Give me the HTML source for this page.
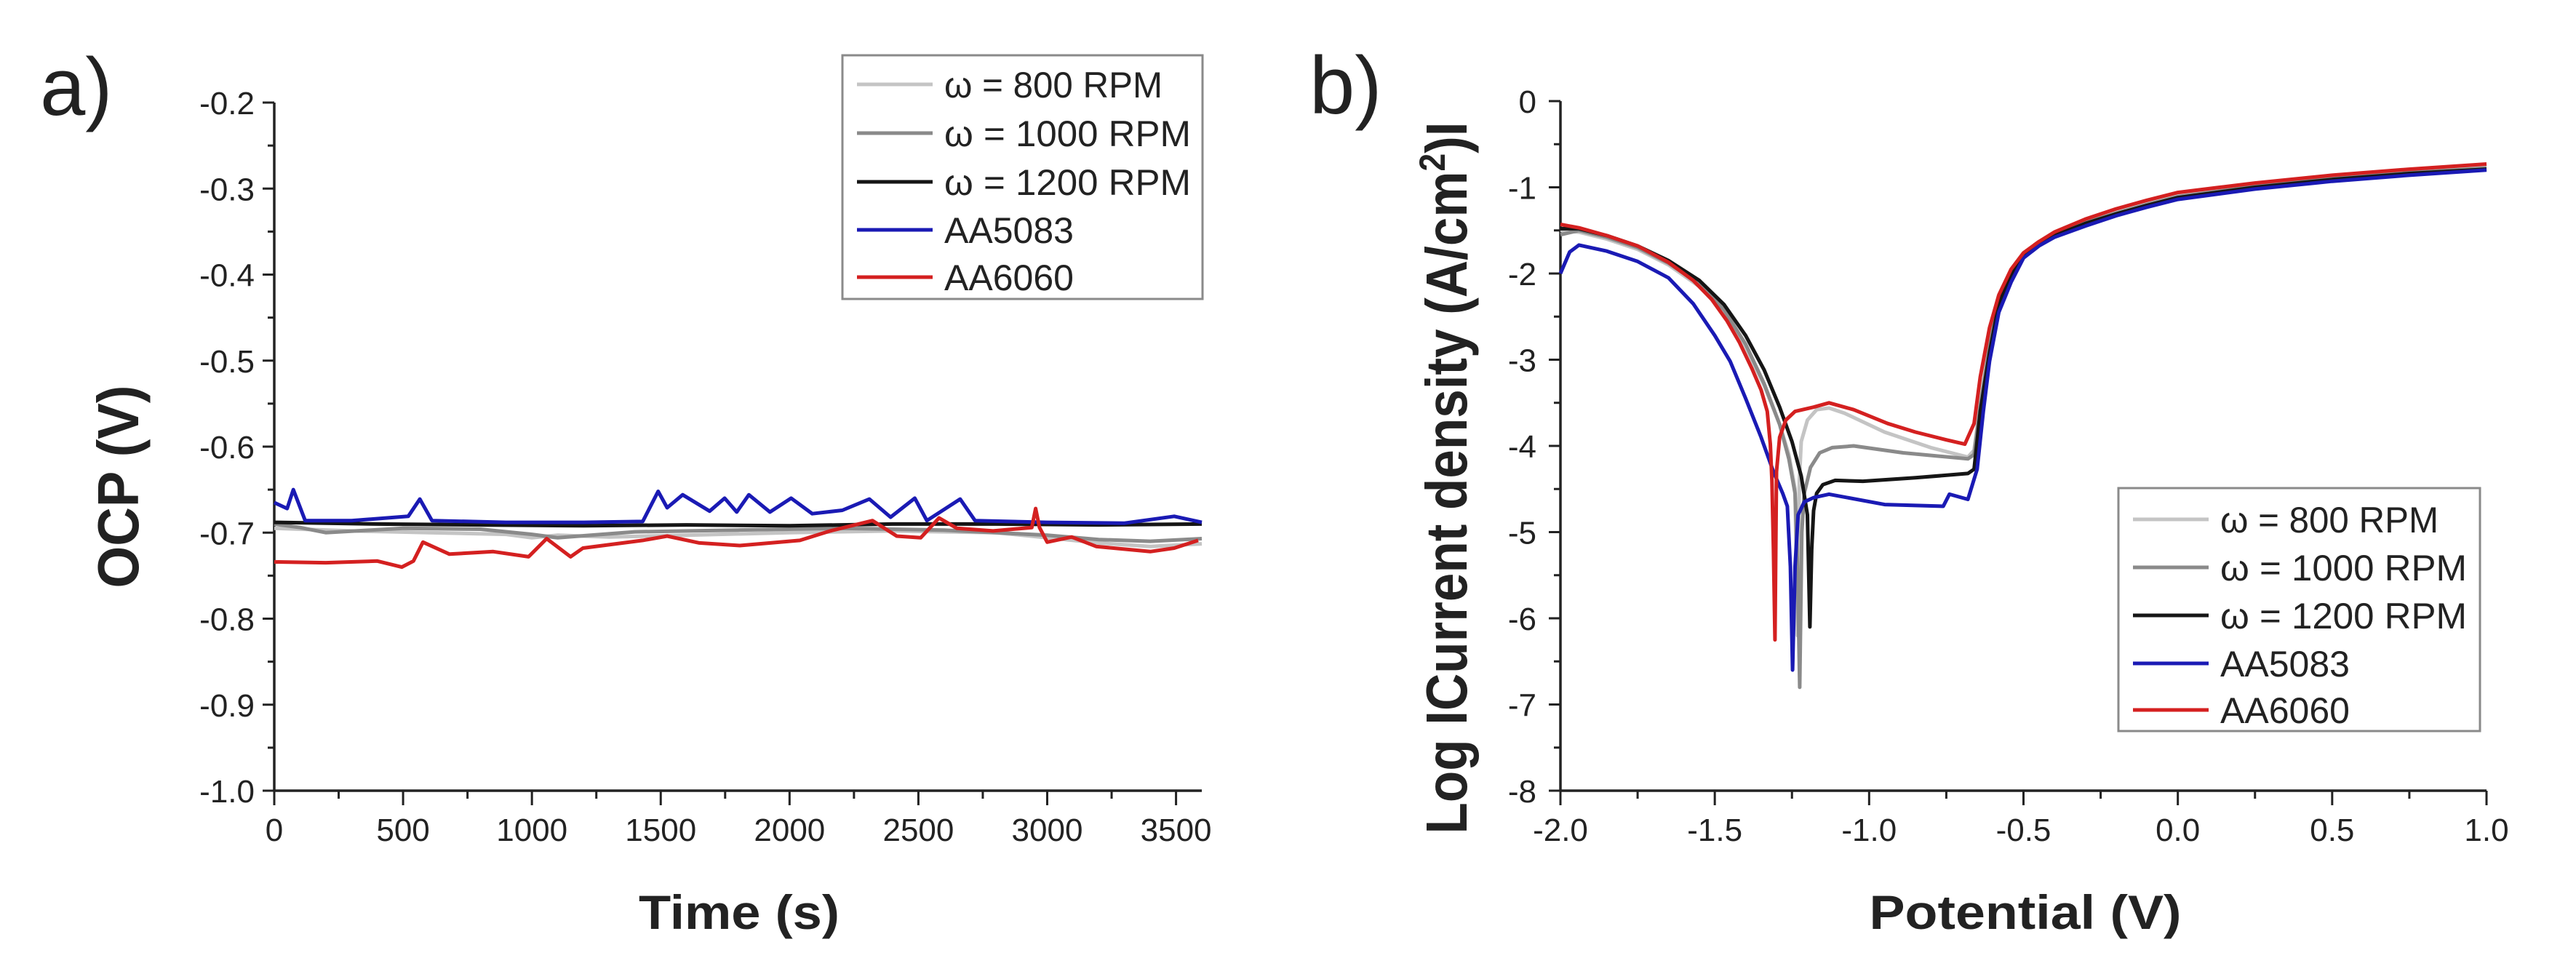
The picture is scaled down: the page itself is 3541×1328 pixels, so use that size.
<!DOCTYPE html>
<html><head><meta charset="utf-8"><title>OCP and polarization curves</title>
<style>html,body{margin:0;padding:0;background:#fff}svg{display:block}text{font-family:"Liberation Sans",Arial,sans-serif;fill:#222}</style>
</head><body>
<svg id="fig" width="3541" height="1328" viewBox="0 0 3541 1328" xmlns="http://www.w3.org/2000/svg">
<rect width="3541" height="1328" fill="#fff"/>
<text x="55" y="158" font-size="112">a)</text>
<text x="1800" y="156" font-size="112">b)</text>
<g id="ga"></g>
<g id="gb"></g>
</svg>
<script>
// ---------- Panel a data (OCP vs time) ----------
const aXTicks = [0,500,1000,1500,2000,2500,3000,3500];
const aYTicks = [-0.2,-0.3,-0.4,-0.5,-0.6,-0.7,-0.8,-0.9,-1.0];
const aYTickLabels = ["-0.2","-0.3","-0.4","-0.5","-0.6","-0.7","-0.8","-0.9","-1.0"];
const aT800 = [0,300,600,900,1000,1100,1300,1600,2000,2400,2800,3000,3200,3400,3600];
const aV800 = [-0.695,-0.698,-0.700,-0.702,-0.706,-0.703,-0.705,-0.703,-0.700,-0.698,-0.700,-0.706,-0.712,-0.716,-0.713];
const aT1000 = [0,100,200,500,800,1000,1100,1400,1800,2200,2600,3000,3200,3400,3600];
const aV1000 = [-0.690,-0.694,-0.700,-0.695,-0.696,-0.702,-0.706,-0.699,-0.697,-0.695,-0.697,-0.703,-0.708,-0.710,-0.707];
const aT1200 = [0,400,800,1200,1600,2000,2400,2800,3200,3600];
const aV1200 = [-0.688,-0.690,-0.691,-0.692,-0.691,-0.692,-0.690,-0.690,-0.691,-0.690];
const aT5083 = [0,50,74,120,300,520,565,612,900,1200,1430,1490,1525,1585,1690,1748,1795,1842,1924,2006,2088,2205,2310,2392,2486,2533,2662,2720,3000,3300,3493,3600];
const aV5083 = [-0.665,-0.672,-0.650,-0.686,-0.686,-0.681,-0.661,-0.686,-0.688,-0.688,-0.687,-0.652,-0.671,-0.656,-0.675,-0.660,-0.676,-0.656,-0.676,-0.660,-0.678,-0.674,-0.661,-0.682,-0.660,-0.686,-0.661,-0.686,-0.688,-0.689,-0.681,-0.688];
const aT6060 = [0,200,400,495,540,577,680,850,987,1057,1150,1198,1430,1525,1650,1807,2040,2158,2322,2416,2509,2580,2650,2790,2940,2955,2970,3000,3095,3190,3400,3493,3586];
const aV6060 = [-0.734,-0.735,-0.733,-0.740,-0.733,-0.711,-0.725,-0.722,-0.728,-0.707,-0.728,-0.718,-0.709,-0.704,-0.712,-0.715,-0.709,-0.698,-0.686,-0.704,-0.706,-0.683,-0.695,-0.698,-0.694,-0.672,-0.694,-0.711,-0.705,-0.716,-0.722,-0.718,-0.709];
// ---------- Panel b data (polarization) ----------
const bXTicks = [-2.0,-1.5,-1.0,-0.5,0.0,0.5,1.0];
const bXTickLabels = ["-2.0","-1.5","-1.0","-0.5","0.0","0.5","1.0"];
const bYTicks = [0,-1,-2,-3,-4,-5,-6,-7,-8];
const bE800 = [-2.0,-1.94,-1.85,-1.75,-1.65,-1.55,-1.47,-1.40,-1.34,-1.29,-1.26,-1.24,-1.232,-1.226,-1.22,-1.20,-1.17,-1.13,-1.08,-0.95,-0.80,-0.68,-0.66,-0.64,-0.61,-0.58,-0.54,-0.50,-0.45,-0.40,-0.30,-0.20,-0.10,0.0,0.25,0.5,0.75,1.0];
const bL800 = [-1.50,-1.52,-1.60,-1.72,-1.90,-2.15,-2.45,-2.85,-3.30,-3.75,-4.10,-4.50,-6.20,-4.40,-3.95,-3.70,-3.58,-3.56,-3.62,-3.84,-4.02,-4.13,-4.05,-3.50,-2.80,-2.30,-2.00,-1.80,-1.66,-1.55,-1.40,-1.28,-1.18,-1.10,-0.98,-0.89,-0.82,-0.77];
const bE1000 = [-2.0,-1.94,-1.85,-1.75,-1.65,-1.55,-1.47,-1.40,-1.34,-1.29,-1.26,-1.24,-1.232,-1.225,-1.218,-1.21,-1.19,-1.16,-1.12,-1.05,-0.89,-0.68,-0.66,-0.64,-0.61,-0.58,-0.54,-0.50,-0.45,-0.40,-0.30,-0.20,-0.10,0.0,0.25,0.5,0.75,1.0];
const bL1000 = [-1.55,-1.50,-1.58,-1.70,-1.88,-2.12,-2.42,-2.82,-3.28,-3.75,-4.15,-4.55,-5.40,-6.80,-5.00,-4.55,-4.25,-4.08,-4.02,-4.00,-4.08,-4.15,-4.10,-3.55,-2.85,-2.32,-2.00,-1.80,-1.67,-1.56,-1.41,-1.30,-1.20,-1.11,-0.99,-0.90,-0.83,-0.78];
const bE1200 = [-2.0,-1.94,-1.85,-1.75,-1.65,-1.55,-1.47,-1.40,-1.34,-1.29,-1.25,-1.22,-1.20,-1.192,-1.186,-1.18,-1.17,-1.15,-1.11,-1.02,-0.85,-0.68,-0.66,-0.64,-0.61,-0.58,-0.54,-0.50,-0.45,-0.40,-0.30,-0.20,-0.10,0.0,0.25,0.5,0.75,1.0];
const bL1200 = [-1.48,-1.48,-1.56,-1.68,-1.85,-2.08,-2.36,-2.72,-3.12,-3.55,-3.95,-4.35,-4.80,-6.10,-5.20,-4.75,-4.55,-4.45,-4.40,-4.41,-4.37,-4.32,-4.27,-3.60,-2.92,-2.35,-2.02,-1.80,-1.67,-1.56,-1.42,-1.31,-1.21,-1.12,-1.00,-0.91,-0.84,-0.79];
const bE5083 = [-2.0,-1.97,-1.94,-1.85,-1.75,-1.65,-1.57,-1.50,-1.45,-1.40,-1.35,-1.31,-1.28,-1.265,-1.255,-1.248,-1.24,-1.23,-1.21,-1.18,-1.13,-0.95,-0.76,-0.74,-0.68,-0.65,-0.63,-0.61,-0.58,-0.54,-0.50,-0.45,-0.40,-0.30,-0.20,-0.10,0.0,0.25,0.5,0.75,1.0];
const bL5083 = [-2.00,-1.75,-1.67,-1.74,-1.86,-2.05,-2.35,-2.72,-3.02,-3.45,-3.90,-4.30,-4.55,-4.70,-5.40,-6.60,-5.40,-4.80,-4.65,-4.60,-4.56,-4.68,-4.70,-4.56,-4.62,-4.27,-3.60,-3.02,-2.45,-2.10,-1.82,-1.68,-1.58,-1.45,-1.33,-1.23,-1.14,-1.02,-0.93,-0.86,-0.80];
const bE6060 = [-2.0,-1.94,-1.85,-1.75,-1.65,-1.57,-1.51,-1.46,-1.42,-1.38,-1.35,-1.33,-1.32,-1.315,-1.31,-1.305,-1.30,-1.29,-1.27,-1.24,-1.18,-1.13,-1.05,-0.94,-0.85,-0.75,-0.69,-0.66,-0.64,-0.61,-0.58,-0.54,-0.50,-0.45,-0.40,-0.30,-0.20,-0.10,0.0,0.25,0.5,0.75,1.0];
const bL6060 = [-1.43,-1.47,-1.56,-1.68,-1.87,-2.08,-2.30,-2.55,-2.80,-3.10,-3.35,-3.60,-3.98,-4.40,-5.20,-6.25,-4.30,-3.90,-3.70,-3.60,-3.55,-3.50,-3.58,-3.74,-3.84,-3.93,-3.98,-3.74,-3.20,-2.63,-2.25,-1.95,-1.76,-1.63,-1.52,-1.37,-1.25,-1.15,-1.06,-0.95,-0.86,-0.79,-0.73];

const NS = "http://www.w3.org/2000/svg";
function mk(tag, attrs, parent){const e=document.createElementNS(NS,tag);for(const k in attrs)e.setAttribute(k,attrs[k]);parent.appendChild(e);return e;}

// ---------- Axis functions ----------
const A = {x0:377, x1:1652, y0:141, y1:1087, tmin:0, tmax:3600, vtop:-0.2, vbot:-1.0};
function ax(t){return A.x0 + (t-A.tmin)/(A.tmax-A.tmin)*(A.x1-A.x0);}
function ay(v){return A.y0 + (A.vtop-v)/(A.vtop-A.vbot)*(A.y1-A.y0);}
const B = {x0:2145, x1:3418, y0:139, y1:1087, emin:-2, emax:1, ltop:0, lbot:-8};
function bx(e){return B.x0 + (e-B.emin)/(B.emax-B.emin)*(B.x1-B.x0);}
function by(l){return B.y0 + (B.ltop-l)/(B.ltop-B.lbot)*(B.y1-B.y0);}

const ga = document.getElementById('ga');
const gb = document.getElementById('gb');

// ---------- Panel a axes ----------
let e;
e = mk('line',{x1:A.x0,y1:A.y0,x2:A.x0,y2:A.y1,stroke:'#222','stroke-width':3.5},ga);


e = mk('line',{x1:A.x0,y1:A.y1,x2:A.x1,y2:A.y1,stroke:'#222','stroke-width':3.5},ga);


aXTicks.forEach(t=>{
  const x=ax(t);
  mk('line',{x1:x,y1:A.y1,x2:x,y2:A.y1+20,stroke:'#222','stroke-width':3},ga);
  const xm=ax(t+250); if(t+250<=A.tmax) mk('line',{x1:xm,y1:A.y1,x2:xm,y2:A.y1+11,stroke:'#222','stroke-width':3},ga);
  e = mk('text',{x:x,y:1156,'font-size':44,'text-anchor':'middle'},ga); e.textContent=String(t);
  
  
});
aYTicks.forEach((v,i)=>{
  const y=ay(v);
  mk('line',{x1:A.x0-16,y1:y,x2:A.x0,y2:y,stroke:'#222','stroke-width':3},ga);
  if(i<aYTicks.length-1){const ym=ay(v-0.05); mk('line',{x1:A.x0-9,y1:ym,x2:A.x0,y2:ym,stroke:'#222','stroke-width':3},ga);}
  e = mk('text',{x:350,y:y+16,'font-size':44,'text-anchor':'end'},ga); e.textContent=aYTickLabels[i];
  
  
});
e = mk('text',{x:0,y:0,'font-size':80,'font-weight':'bold','text-anchor':'middle',transform:'translate(190,669) rotate(-90)',textLength:279,lengthAdjust:'spacingAndGlyphs'},ga);
e.textContent='OCP (V)';


e = mk('text',{x:1016,y:1277,'font-size':66,'font-weight':'bold','text-anchor':'middle',textLength:276,lengthAdjust:'spacingAndGlyphs'},ga);
e.textContent='Time (s)';



const series = [
  {name:'800',label:'\u03c9 = 800 RPM',col:'#c4c4c4'},
  {name:'1000',label:'\u03c9 = 1000 RPM',col:'#8a8a8a'},
  {name:'1200',label:'\u03c9 = 1200 RPM',col:'#151515'},
  {name:'aa5083',label:'AA5083',col:'#1a1ab4'},
  {name:'aa6060',label:'AA6060',col:'#d42020'}
];
const aData = [[aT800,aV800],[aT1000,aV1000],[aT1200,aV1200],[aT5083,aV5083],[aT6060,aV6060]];
const bData = [[bE800,bL800],[bE1000,bL1000],[bE1200,bL1200],[bE5083,bL5083],[bE6060,bL6060]];
aData.forEach((d,i)=>{
  const pts=d[0].map((t,j)=>ax(t).toFixed(1)+','+ay(d[1][j]).toFixed(1)).join(' ');
  const p=mk('polyline',{points:pts,fill:'none',stroke:series[i].col,'stroke-width':5,'stroke-linejoin':'round'},ga);
  
  
});

// ---------- Panel b axes ----------
e = mk('line',{x1:B.x0,y1:B.y0,x2:B.x0,y2:B.y1,stroke:'#222','stroke-width':3.5},gb);


e = mk('line',{x1:B.x0,y1:B.y1,x2:B.x1,y2:B.y1,stroke:'#222','stroke-width':3.5},gb);


bXTicks.forEach((v,i)=>{
  const x=bx(v);
  mk('line',{x1:x,y1:B.y1,x2:x,y2:B.y1+20,stroke:'#222','stroke-width':3},gb);
  if(i<bXTicks.length-1){const xm=bx(v+0.25); mk('line',{x1:xm,y1:B.y1,x2:xm,y2:B.y1+11,stroke:'#222','stroke-width':3},gb);}
  e = mk('text',{x:x,y:1156,'font-size':44,'text-anchor':'middle'},gb); e.textContent=bXTickLabels[i];
  
  
});
bYTicks.forEach((v,i)=>{
  const y=by(v);
  mk('line',{x1:B.x0-16,y1:y,x2:B.x0,y2:y,stroke:'#222','stroke-width':3},gb);
  if(i<bYTicks.length-1){const ym=by(v-0.5); mk('line',{x1:B.x0-9,y1:ym,x2:B.x0,y2:ym,stroke:'#222','stroke-width':3},gb);}
  e = mk('text',{x:2112,y:y+16,'font-size':44,'text-anchor':'end'},gb); e.textContent=String(v);
  
  
});
e = mk('text',{x:0,y:0,'font-size':80,'font-weight':'bold','text-anchor':'middle',transform:'translate(2016,657) rotate(-90)',textLength:979,lengthAdjust:'spacingAndGlyphs'},gb);
e.innerHTML='Log ICurrent density (A/cm<tspan dy="-30" font-size="50">2</tspan><tspan dy="30">)I</tspan>';


e = mk('text',{x:2784,y:1277,'font-size':66,'font-weight':'bold','text-anchor':'middle',textLength:429,lengthAdjust:'spacingAndGlyphs'},gb);
e.textContent='Potential (V)';


bData.forEach((d,i)=>{
  const pts=d[0].map((v,j)=>bx(v).toFixed(1)+','+by(d[1][j]).toFixed(1)).join(' ');
  const p=mk('polyline',{points:pts,fill:'none',stroke:series[i].col,'stroke-width':5,'stroke-linejoin':'round'},gb);
  
  
});

// ---------- Legends ----------
function legend(g, bx0, by0, w, h, ys, prefix){
  const r=mk('rect',{x:bx0,y:by0,width:w,height:h,fill:'#fff',stroke:'#8a8a8a','stroke-width':3},g);
  
  
  series.forEach((s,i)=>{
    const y=ys[i];
    const l=mk('line',{x1:bx0+20,y1:y,x2:bx0+124,y2:y,stroke:s.col,'stroke-width':5},g);
    
    
    const t=mk('text',{x:bx0+140,y:y+18,'font-size':50},g);
    if(i<3) t.setAttribute('textLength', s.name==='800'?300:339);
    t.setAttribute('lengthAdjust','spacingAndGlyphs');
    t.textContent=s.label;
    
    
  });
}
legend(ga,1158,76,495,335,[116,183,250,316,381],'a');
legend(gb,2912,671,497,334,[714,780,846,912,976],'b');
</script>
</body></html>
